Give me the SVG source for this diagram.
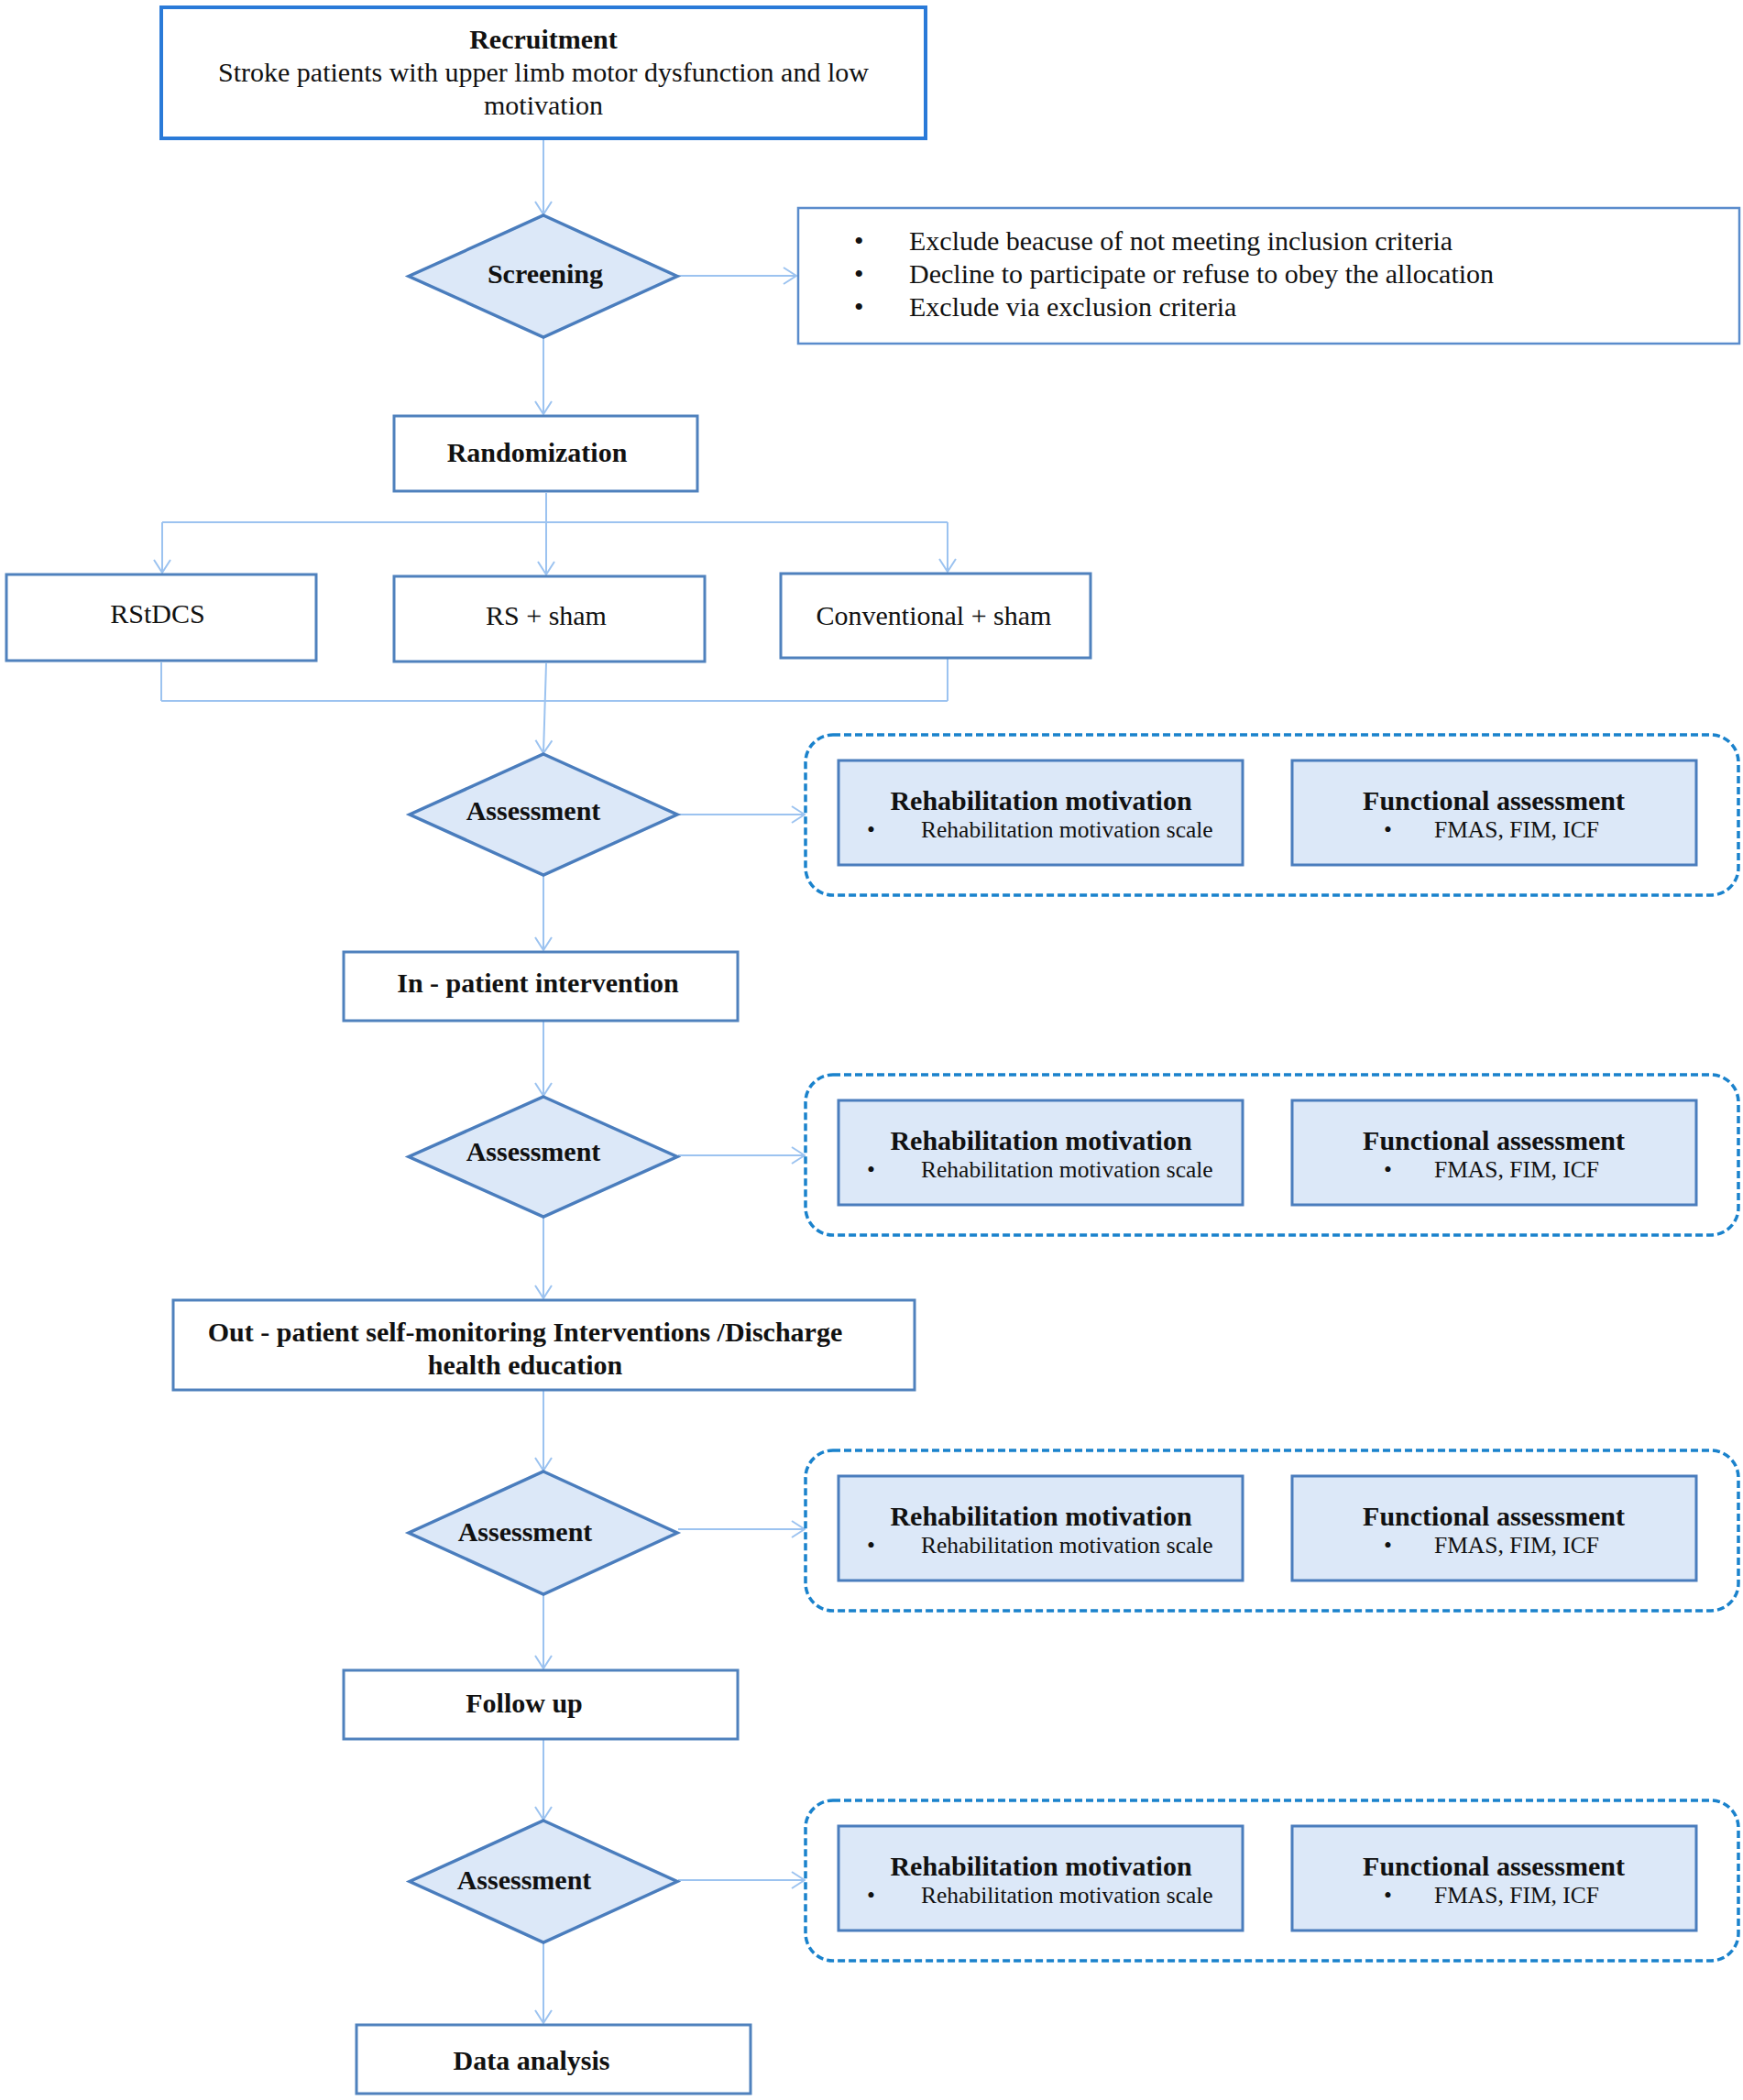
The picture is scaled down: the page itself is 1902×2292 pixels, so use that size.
<svg xmlns="http://www.w3.org/2000/svg" width="1902" height="2292" viewBox="0 0 1902 2292">
<defs>
<marker id="arr" viewBox="0 0 16 20" refX="15" refY="10" markerWidth="16" markerHeight="20" markerUnits="userSpaceOnUse" orient="auto">
<path d="M1,1 L15,10 L1,19" fill="none" stroke="#9cc3f0" stroke-width="2"/>
</marker>
<style>
text{font-family:"Liberation Serif","Times New Roman",serif;fill:#111;}
.t{font-size:30px;}
.b{font-size:30px;font-weight:bold;}
.s{font-size:25.5px;}
.c{text-anchor:middle;}
.box{fill:#fff;stroke:#4f81bd;stroke-width:3;}
.dia{fill:#dce8f8;stroke:#4a7dbd;stroke-width:3.5;stroke-linejoin:miter;}
.inner{fill:#dce8f8;stroke:#4a7dbd;stroke-width:3;}
.cont{fill:none;stroke:#1a82cc;stroke-width:3.5;stroke-dasharray:8 4;}
.ln{fill:none;stroke:#9cc3f0;stroke-width:2;}
.ar{fill:none;stroke:#9cc3f0;stroke-width:2;marker-end:url(#arr);}
</style>
</defs>
<rect width="1902" height="2292" fill="#fff"/>

<g id="connectors">
<line class="ar" x1="593" y1="152" x2="593" y2="234"/>
<line class="ar" x1="740" y1="301" x2="869" y2="301"/>
<line class="ar" x1="593" y1="369" x2="593" y2="452"/>
<line class="ar" x1="596" y1="538" x2="596" y2="627"/>
<line class="ln" x1="177" y1="570" x2="1034" y2="570"/>
<line class="ar" x1="177" y1="570" x2="177" y2="625"/>
<line class="ar" x1="1034" y1="570" x2="1034" y2="624"/>
<line class="ln" x1="176" y1="723" x2="176" y2="765"/>
<line class="ln" x1="1034" y1="719" x2="1034" y2="765"/>
<line class="ln" x1="176" y1="765" x2="1034" y2="765"/>
<line class="ar" x1="596" y1="724" x2="593" y2="822"/>
<line class="ar" x1="740" y1="889" x2="878" y2="889"/>
<line class="ar" x1="593" y1="955" x2="593" y2="1037"/>
<line class="ar" x1="593" y1="1115" x2="593" y2="1196"/>
<line class="ar" x1="740" y1="1261" x2="878" y2="1261"/>
<line class="ar" x1="593" y1="1329" x2="593" y2="1417"/>
<line class="ar" x1="593" y1="1518" x2="593" y2="1605"/>
<line class="ar" x1="740" y1="1669" x2="878" y2="1669"/>
<line class="ar" x1="593" y1="1741" x2="593" y2="1821"/>
<line class="ar" x1="593" y1="1899" x2="593" y2="1986"/>
<line class="ar" x1="740" y1="2052" x2="878" y2="2052"/>
<line class="ar" x1="593" y1="2121" x2="593" y2="2208"/>
</g>

<g id="recruitment">
<rect x="176" y="8" width="834" height="143" fill="#fff" stroke="#2a7ad8" stroke-width="4"/>
<text class="b c" x="593" y="53">Recruitment</text>
<text class="t c" x="593" y="89">Stroke patients with upper limb motor dysfunction and low</text>
<text class="t c" x="593" y="125">motivation</text>
</g>

<g id="screening">
<polygon class="dia" points="593,235 739,301.5 593,368 446,301.5"/>
<text class="b c" x="595" y="309">Screening</text>
</g>

<g id="exclusion">
<rect x="871" y="227" width="1027" height="148" fill="#fff" stroke="#5a8ccc" stroke-width="2.5"/>
<text class="t" x="932" y="273">•</text>
<text class="t" x="992" y="273">Exclude beacuse of not meeting inclusion criteria</text>
<text class="t" x="932" y="309">•</text>
<text class="t" x="992" y="309">Decline to participate or refuse to obey the allocation</text>
<text class="t" x="932" y="345">•</text>
<text class="t" x="992" y="345">Exclude via exclusion criteria</text>
</g>

<g id="randomization">
<rect class="box" x="430" y="454" width="331" height="82"/>
<text class="b c" x="586" y="504">Randomization</text>
</g>

<g id="rstdcs">
<rect class="box" x="7" y="627" width="338" height="94"/>
<text class="t c" x="172" y="680">RStDCS</text>
</g>

<g id="rs-sham">
<rect class="box" x="430" y="629" width="339" height="93"/>
<text class="t c" x="596" y="682">RS + sham</text>
</g>

<g id="conventional-sham">
<rect class="box" x="852" y="626" width="338" height="92"/>
<text class="t c" x="1019" y="682">Conventional + sham</text>
</g>

<g id="assessment1">
<polygon class="dia" points="593,823 739,889 593,955 447,889"/>
<text class="b c" x="582" y="895">Assessment</text>
</g>

<g id="measures1">
<rect class="cont" x="879" y="802" width="1018" height="175" rx="30"/>
<rect class="inner" x="915" y="830" width="441" height="114"/>
<text class="b c" x="1136" y="884">Rehabilitation motivation</text>
<text class="s" x="946" y="914">•</text>
<text class="s" x="1005" y="914">Rehabilitation motivation scale</text>
<rect class="inner" x="1410" y="830" width="441" height="114"/>
<text class="b c" x="1630" y="884">Functional assessment</text>
<text class="s" x="1510" y="914">•</text>
<text class="s" x="1565" y="914">FMAS, FIM, ICF</text>
</g>

<g id="inpatient">
<rect class="box" x="375" y="1039" width="430" height="75"/>
<text class="b c" x="587" y="1083">In - patient intervention</text>
</g>

<g id="assessment2">
<polygon class="dia" points="593,1197 739,1262.5 593,1328 446,1262.5"/>
<text class="b c" x="582" y="1267">Assessment</text>
</g>

<g id="measures2">
<rect class="cont" x="879" y="1173" width="1018" height="175" rx="30"/>
<rect class="inner" x="915" y="1201" width="441" height="114"/>
<text class="b c" x="1136" y="1255">Rehabilitation motivation</text>
<text class="s" x="946" y="1285">•</text>
<text class="s" x="1005" y="1285">Rehabilitation motivation scale</text>
<rect class="inner" x="1410" y="1201" width="441" height="114"/>
<text class="b c" x="1630" y="1255">Functional assessment</text>
<text class="s" x="1510" y="1285">•</text>
<text class="s" x="1565" y="1285">FMAS, FIM, ICF</text>
</g>

<g id="outpatient">
<rect class="box" x="189" y="1419" width="809" height="98"/>
<text class="b c" x="573" y="1464">Out - patient self-monitoring Interventions /Discharge</text>
<text class="b c" x="573" y="1500">health education</text>
</g>

<g id="assessment3">
<polygon class="dia" points="593,1606 739,1673 593,1740 446,1673"/>
<text class="b c" x="573" y="1682">Assessment</text>
</g>

<g id="measures3">
<rect class="cont" x="879" y="1583" width="1018" height="175" rx="30"/>
<rect class="inner" x="915" y="1611" width="441" height="114"/>
<text class="b c" x="1136" y="1665">Rehabilitation motivation</text>
<text class="s" x="946" y="1695">•</text>
<text class="s" x="1005" y="1695">Rehabilitation motivation scale</text>
<rect class="inner" x="1410" y="1611" width="441" height="114"/>
<text class="b c" x="1630" y="1665">Functional assessment</text>
<text class="s" x="1510" y="1695">•</text>
<text class="s" x="1565" y="1695">FMAS, FIM, ICF</text>
</g>

<g id="followup">
<rect class="box" x="375" y="1823" width="430" height="75"/>
<text class="b c" x="572" y="1869">Follow up</text>
</g>

<g id="assessment4">
<polygon class="dia" points="593,1987 739,2053.5 593,2120 447,2053.5"/>
<text class="b c" x="572" y="2062">Assessment</text>
</g>

<g id="measures4">
<rect class="cont" x="879" y="1965" width="1018" height="175" rx="30"/>
<rect class="inner" x="915" y="1993" width="441" height="114"/>
<text class="b c" x="1136" y="2047">Rehabilitation motivation</text>
<text class="s" x="946" y="2077">•</text>
<text class="s" x="1005" y="2077">Rehabilitation motivation scale</text>
<rect class="inner" x="1410" y="1993" width="441" height="114"/>
<text class="b c" x="1630" y="2047">Functional assessment</text>
<text class="s" x="1510" y="2077">•</text>
<text class="s" x="1565" y="2077">FMAS, FIM, ICF</text>
</g>

<g id="data-analysis">
<rect class="box" x="389" y="2210" width="430" height="75"/>
<text class="b c" x="580" y="2259">Data analysis</text>
</g>
</svg>
